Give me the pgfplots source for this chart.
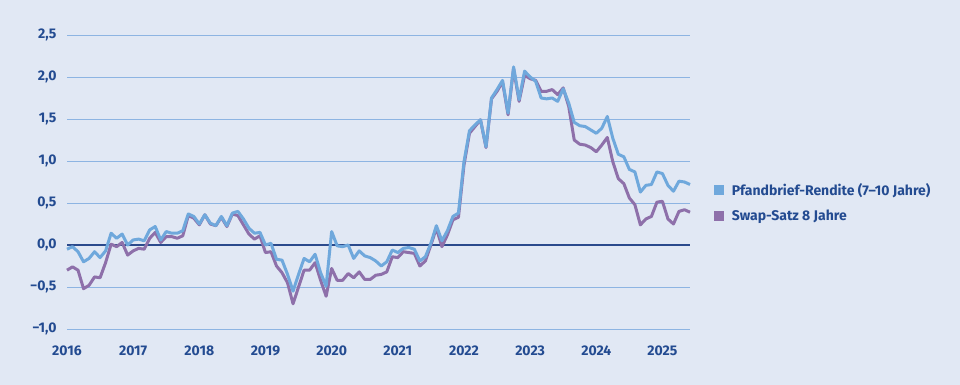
\documentclass[border=0pt]{standalone}
\usepackage{pgfplots}
\pgfplotsset{compat=1.18}
\usepackage{pgfplotstable}
\usepackage{fontspec}
\setmainfont{Fira Sans}
\definecolor{bgc}{HTML}{E1E8F4}
\definecolor{txtc}{HTML}{234B91}
\definecolor{gridc}{HTML}{8DB4E2}
\definecolor{navyc}{HTML}{2B4A8C}
\definecolor{pfbc}{HTML}{6FA8DC}
\definecolor{swapc}{HTML}{8E70AA}
\pgfplotstableread{
m b p
0 -0.05 -0.30
1 -0.02 -0.26
2 -0.08 -0.30
3 -0.20 -0.52
4 -0.16 -0.48
5 -0.08 -0.38
6 -0.15 -0.39
7 -0.07 -0.21
8 0.14 0.01
9 0.08 -0.02
10 0.13 0.03
11 0.00 -0.12
12 0.06 -0.07
13 0.07 -0.04
14 0.05 -0.05
15 0.18 0.08
16 0.22 0.15
17 0.06 0.03
18 0.16 0.10
19 0.14 0.10
20 0.14 0.08
21 0.17 0.11
22 0.37 0.35
23 0.34 0.32
24 0.25 0.24
25 0.36 0.36
26 0.26 0.25
27 0.23 0.23
28 0.34 0.33
29 0.23 0.22
30 0.38 0.37
31 0.40 0.35
32 0.31 0.24
33 0.20 0.13
34 0.14 0.07
35 0.15 0.11
36 0.00 -0.09
37 0.02 -0.08
38 -0.17 -0.25
39 -0.18 -0.33
40 -0.35 -0.45
41 -0.55 -0.70
42 -0.35 -0.50
43 -0.16 -0.30
44 -0.20 -0.30
45 -0.11 -0.21
46 -0.33 -0.42
47 -0.49 -0.61
48 0.16 -0.28
49 -0.01 -0.42
50 -0.02 -0.42
51 0.00 -0.34
52 -0.16 -0.39
53 -0.07 -0.32
54 -0.13 -0.41
55 -0.15 -0.41
56 -0.19 -0.36
57 -0.25 -0.35
58 -0.20 -0.32
59 -0.06 -0.14
60 -0.09 -0.15
61 -0.04 -0.08
62 -0.03 -0.09
63 -0.05 -0.10
64 -0.19 -0.25
65 -0.14 -0.19
66 0.02 0.00
67 0.23 0.20
68 0.05 -0.02
69 0.17 0.12
70 0.34 0.30
71 0.38 0.33
72 0.99 0.95
73 1.36 1.33
74 1.43 1.41
75 1.49 1.49
76 1.17 1.16
77 1.75 1.74
78 1.85 1.83
79 1.96 1.94
80 1.57 1.55
81 2.12 2.10
82 1.73 1.71
83 2.07 2.02
84 2.00 1.98
85 1.95 1.96
86 1.75 1.83
87 1.74 1.83
88 1.75 1.85
89 1.71 1.79
90 1.86 1.87
91 1.69 1.65
92 1.46 1.25
93 1.42 1.20
94 1.41 1.19
95 1.37 1.16
96 1.33 1.11
97 1.39 1.19
98 1.53 1.28
99 1.27 0.99
100 1.08 0.79
101 1.05 0.73
102 0.90 0.56
103 0.87 0.48
104 0.63 0.24
105 0.71 0.31
106 0.72 0.34
107 0.87 0.51
108 0.85 0.52
109 0.71 0.31
110 0.64 0.25
111 0.76 0.40
112 0.75 0.42
113 0.72 0.39
}\datatable
\begin{document}
\begin{tikzpicture}[x=1pt,y=1pt]
\fill[bgc] (0,0) rectangle (960,385);
\begin{axis}[
  at={(67pt,56pt)}, anchor=south west,
  scale only axis, width=623pt, height=294pt,
  xmin=0, xmax=113, ymin=-1, ymax=2.5,
  axis line style={draw=none},
  tick style={draw=none},
  major tick length=0pt,
  ytick={-1,-0.5,0,0.5,1,1.5,2,2.5},
  yticklabels={{−1,0},{−0,5},{0,0},{0,5},{1,0},{1,5},{2,0},{2,5}},
  xtick={0,12,24,36,48,60,72,84,96,108},
  xticklabels={2016,2017,2018,2019,2020,2021,2022,2023,2024,2025},
  ymajorgrids=true, xmajorgrids=false,
  major grid style={draw=gridc, line width=0.9pt},
  y grid style={draw=gridc, line width=0.9pt},
  extra y ticks={0},
  extra y tick labels={},
  extra y tick style={major grid style={draw=navyc, line width=1.6pt}, y grid style={draw=navyc, line width=1.6pt}},
  ticklabel style={font=\fontsize{14}{16}\selectfont\bfseries, text=txtc},
  yticklabel style={xshift=-7pt},
  xticklabel style={yshift=-13pt},
  clip=false,
  legend style={at={(1.038,0.43)}, anchor=west, draw=none, fill=none,
    font=\fontsize{14}{16}\selectfont\bfseries, text=txtc,
    row sep=9pt, inner sep=0pt},
  legend cell align=left,
  reverse legend,
  legend image code/.code={\fill[#1, draw=none] (0pt,-5pt) rectangle (10pt,5pt); \path[draw=none] (0pt,0pt) -- (16pt,0pt);},
]
\addplot[swapc, line width=3pt, line join=round] table[x=m, y=p] {\datatable};
\addlegendentry{Swap-Satz 8 Jahre}
\addplot[pfbc, line width=3pt, line join=round] table[x=m, y=b] {\datatable};
\addlegendentry{Pfandbrief-Rendite (7–10 Jahre)}
\end{axis}
\end{tikzpicture}
\end{document}
